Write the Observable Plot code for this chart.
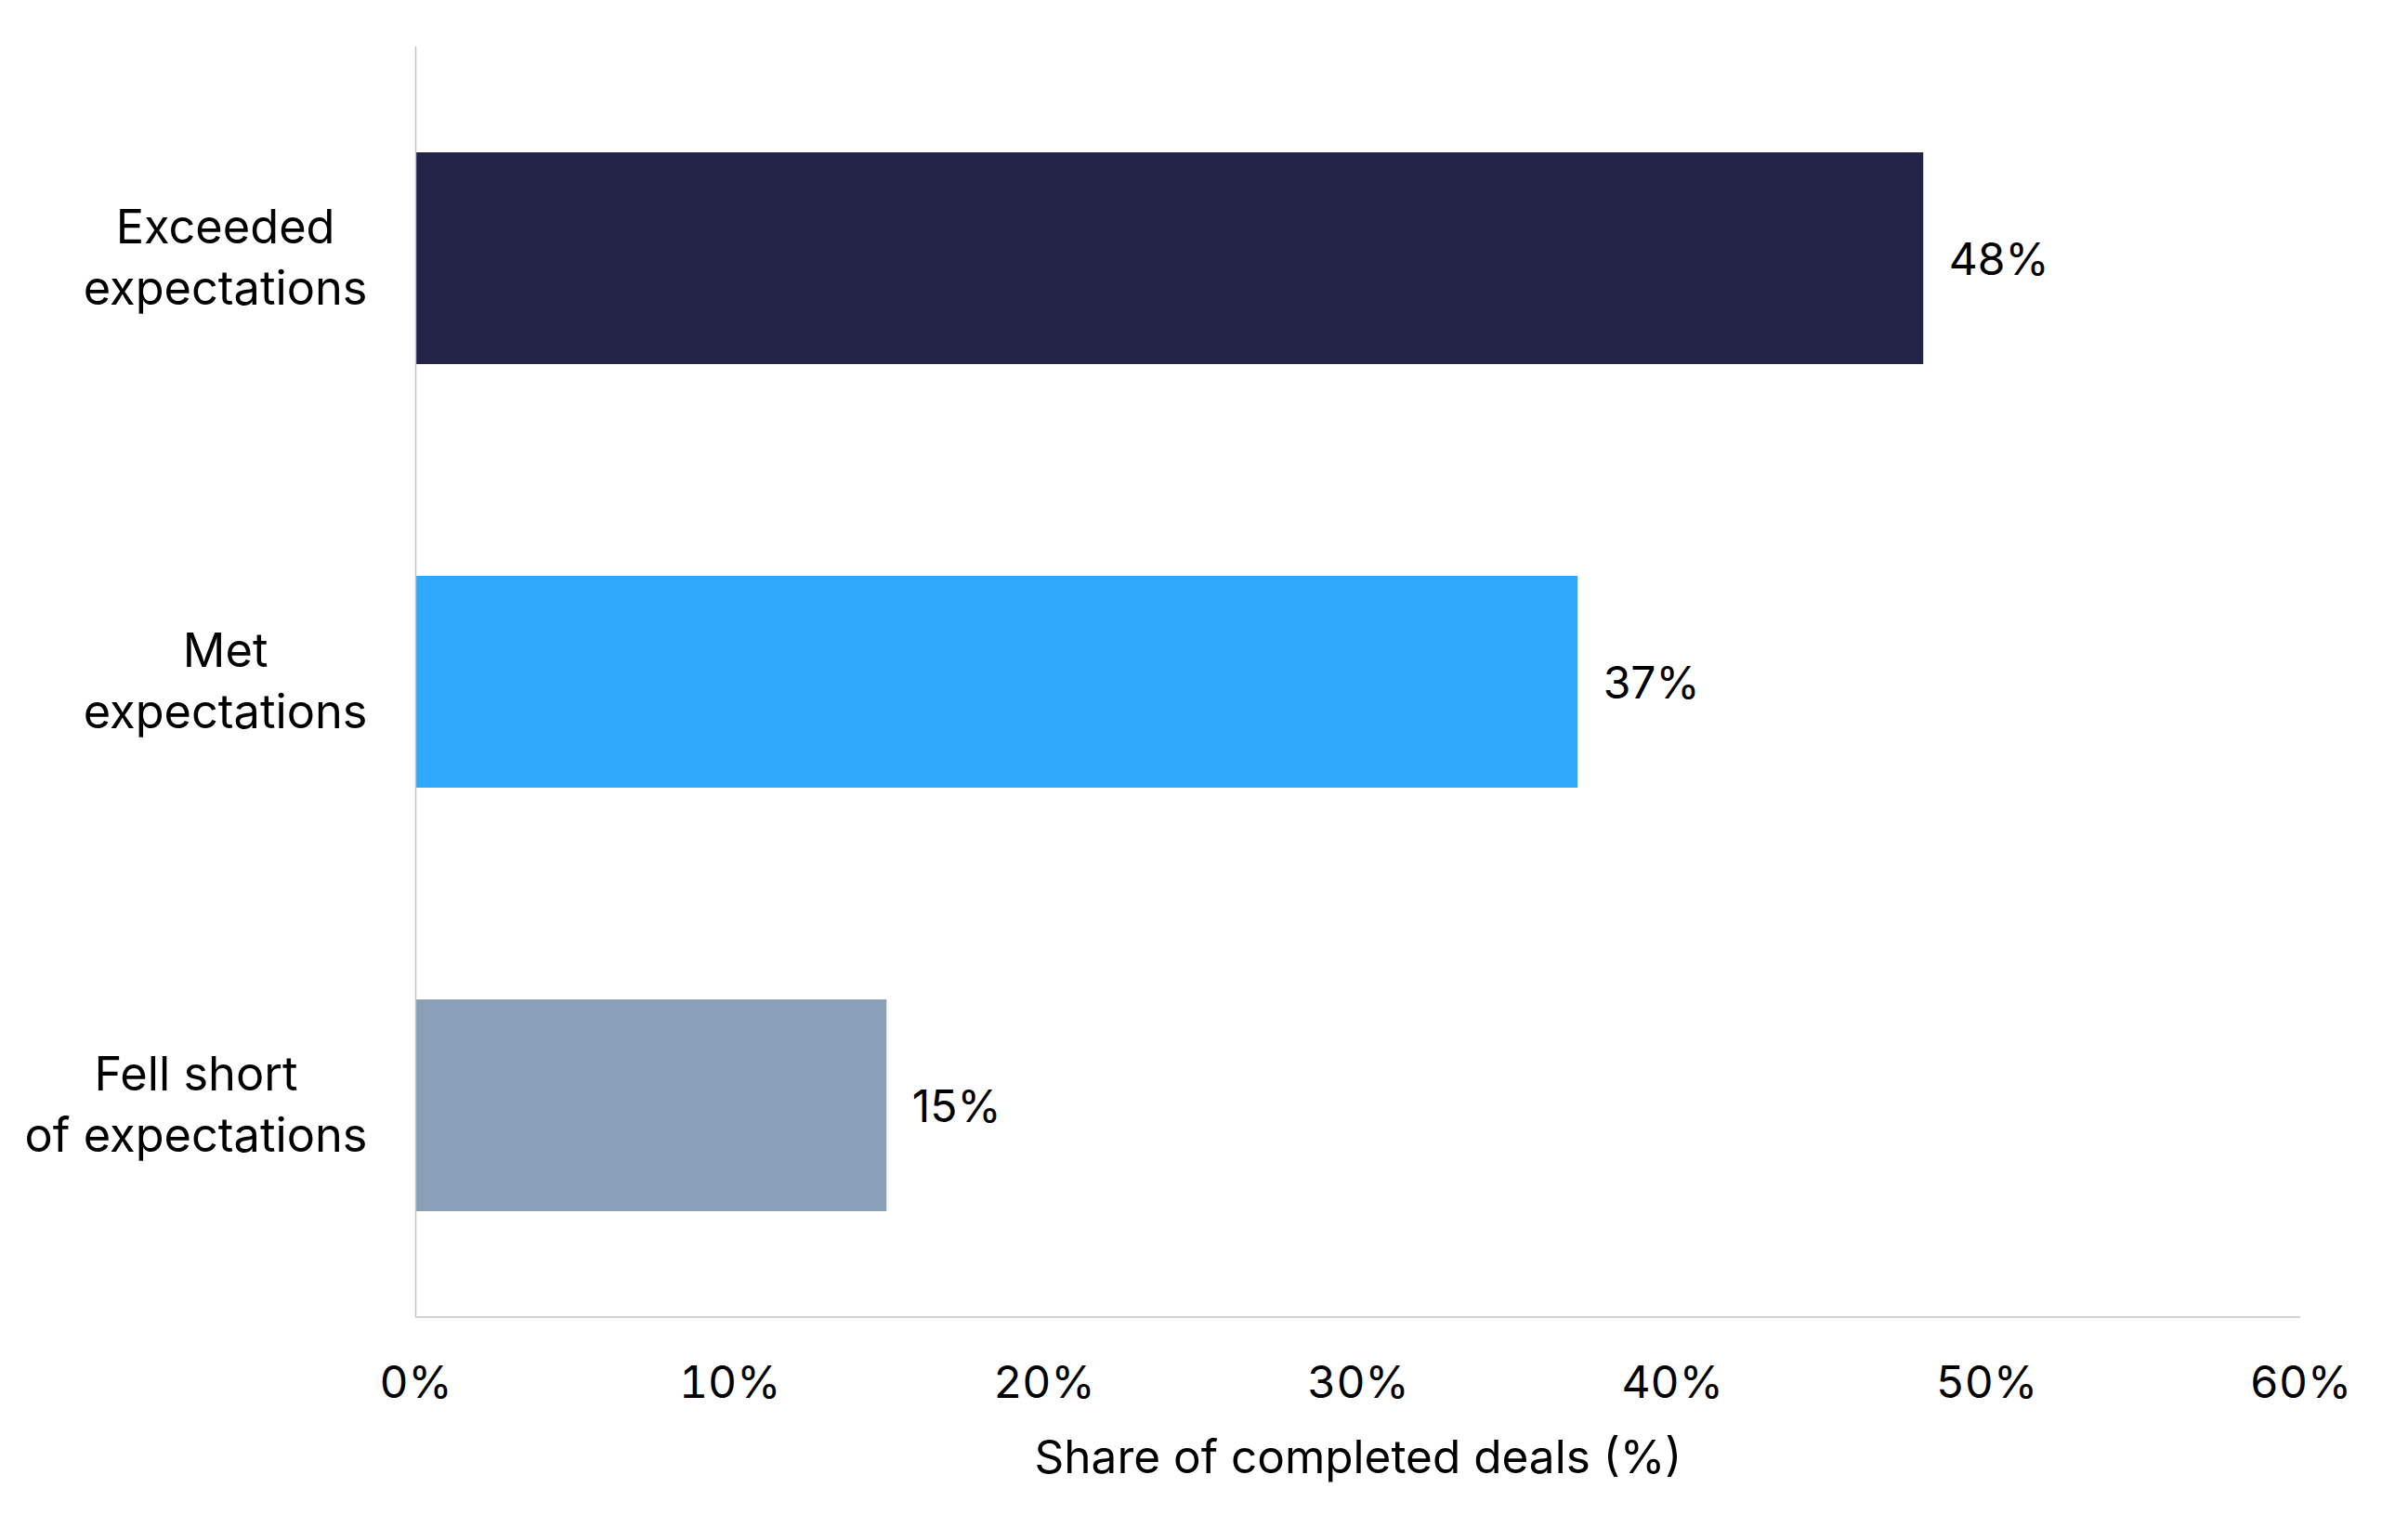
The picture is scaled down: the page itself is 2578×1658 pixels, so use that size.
<!DOCTYPE html>
<html>
<head>
<meta charset="utf-8">
<script src="https://cdn.jsdelivr.net/npm/d3@7"></script>
<script src="https://cdn.jsdelivr.net/npm/@observablehq/plot@0.6"></script>
<style>
  html, body { margin: 0; padding: 0; background: #ffffff; }
  #chart svg { display: block; }
</style>
</head>
<body>
<div id="chart"></div>
<script>
// ---- Data ----
const categories = ["Exceeded expectations", "Met expectations", "Fell short of expectations"];
const categoryLabels = ["Exceeded\nexpectations", "Met\nexpectations", "Fell short\nof expectations"];
const values = [48, 37, 15];
const barColors = ["#222347", "#30a9fd", "#8aa0b8"];
const xTicks = [0, 10, 20, 30, 40, 50, 60];
const xTitle = "Share of completed deals (%)";

const data = categories.map((c, i) => ({category: c, label: categoryLabels[i], value: values[i], color: barColors[i]}));

// ---- Style ----
const FONT = "Inter";
const FS = 48;
const FS_CAT = 50.5;
const FS_TITLE = 49.5;
const W = 2578, H = 1658;

const ctx = document.createElement("canvas").getContext("2d");
ctx.font = `${FS_CAT}px ${FONT}`;
const blockWidth = (s) => Math.max(...s.split("\n").map(l => ctx.measureText(l).width));

const labelGap = 52;
const labelMarks = data.map(d => Plot.text([d], {
  x: () => 0, y: "category", text: "label",
  textAnchor: "middle", lineAnchor: "middle", lineHeight: 1.31,
  fontSize: FS_CAT,
  dx: -labelGap - blockWidth(d.label) / 2, dy: -5, fill: "#000"
}));

const bottomLine = (index, scales, values, dims) => {
  const l = document.createElementNS("http://www.w3.org/2000/svg", "line");
  const y = dims.height - dims.marginBottom;
  l.setAttribute("x1", dims.marginLeft);
  l.setAttribute("x2", dims.width - dims.marginRight);
  l.setAttribute("y1", y);
  l.setAttribute("y2", y);
  l.setAttribute("stroke", "#c4c4c4");
  l.setAttribute("stroke-width", 1.5);
  return l;
};

const chart = Plot.plot({
  width: W,
  height: H,
  marginLeft: 447,
  marginRight: 102,
  marginTop: 50,
  marginBottom: 240,
  style: {fontFamily: FONT, fontSize: `${FS}px`, color: "#000", background: "#fff"},
  x: {domain: [0, 60], ticks: xTicks, tickFormat: d => d + "%", axis: null, label: null},
  y: {domain: categories, paddingInner: 0.5, paddingOuter: 0.25, axis: null, label: null},
  color: {type: "identity"},
  marks: [
    Plot.barX(data, {x: "value", y: "category", fill: "color"}),
    Plot.ruleX([0], {stroke: "#c4c4c4", strokeWidth: 1.5}),
    bottomLine,
    Plot.text(data, {x: "value", y: "category", text: d => d.value + "%", textAnchor: "start", dx: 27, dy: 2, fill: "#000"}),
    ...labelMarks,
    Plot.axisX(xTicks, {tickSize: 0, tickPadding: 52, tickFormat: d => d + "%", fill: "#000", fontSize: FS, label: null}),
    Plot.text([xTitle], {frameAnchor: "bottom", text: d => d, lineAnchor: "bottom", dy: 167, fontSize: FS_TITLE, fill: "#000"})
  ]
});

document.getElementById("chart").appendChild(chart);
</script>
</body>
</html>
